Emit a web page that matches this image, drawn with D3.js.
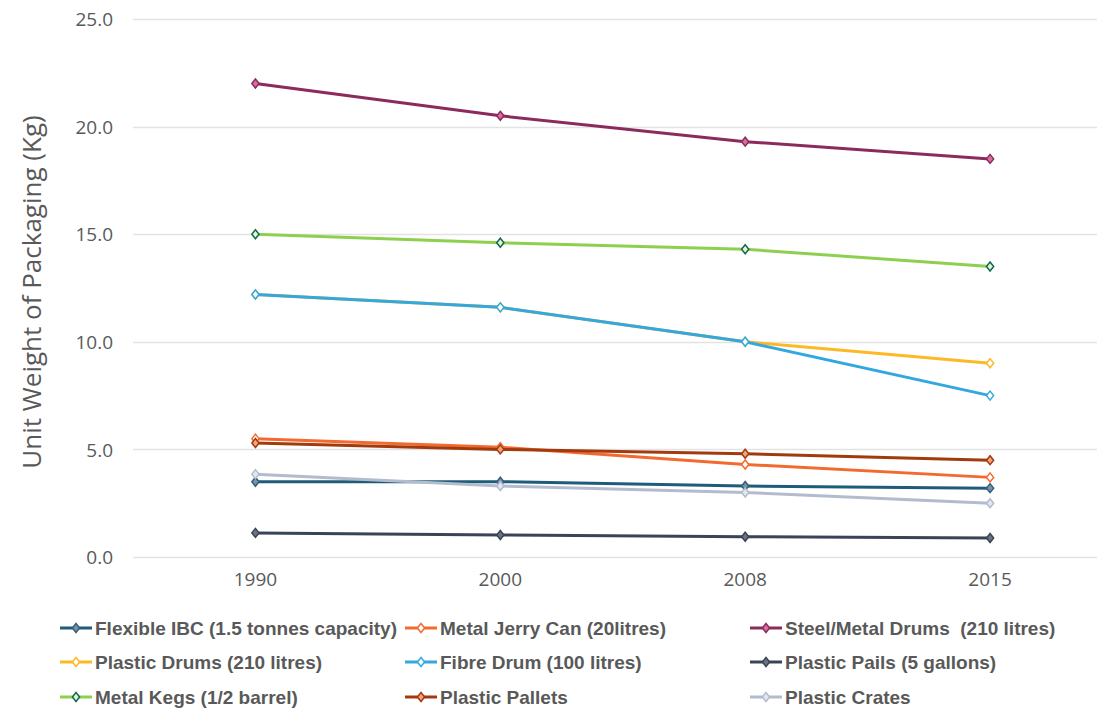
<!DOCTYPE html>
<html>
<head>
<meta charset="utf-8">
<script src="https://cdn.jsdelivr.net/npm/d3@7"></script>
<style>
  html, body { margin: 0; padding: 0; background: #fff; }
  svg { display: block; }
</style>
</head>
<body>
<svg id="chart" width="1101" height="709"></svg>
<script>
// Years on the category axis
const years = ["1990", "2000", "2008", "2015"];

// Unit weight of packaging (kg) per type
const flexibleIBC   = [3.5, 3.5, 3.3, 3.2];
const metalJerryCan = [5.5, 5.1, 4.3, 3.7];
const steelDrums    = [22.0, 20.5, 19.3, 18.5];
const plasticDrums  = [12.2, 11.6, 10.0, 9.0];
const fibreDrum     = [12.2, 11.6, 10.0, 7.5];
const plasticPails  = [1.12, 1.02, 0.94, 0.88];
const metalKegs     = [15.0, 14.6, 14.3, 13.5];
const plasticPallets= [5.3, 5.0, 4.8, 4.5];
const plasticCrates = [3.85, 3.3, 3.0, 2.5];

// Value axis ticks
const yTicks = [0, 5, 10, 15, 20, 25];

const seriesNames = [
  "Flexible IBC (1.5 tonnes capacity)", "Metal Jerry Can (20litres)", "Steel/Metal Drums  (210 litres)",
  "Plastic Drums (210 litres)", "Fibre Drum (100 litres)", "Plastic Pails (5 gallons)",
  "Metal Kegs (1/2 barrel)", "Plastic Pallets", "Plastic Crates"
];
const seriesValues = [flexibleIBC, metalJerryCan, steelDrums, plasticDrums, fibreDrum,
  plasticPails, metalKegs, plasticPallets, plasticCrates];
const lineColors   = ["#1F5C7A", "#F26A2E", "#8C2A5C", "#FDB925", "#33A8DE", "#3A4457", "#8DD04F", "#A13B0E", "#B3BCCD"];
const markerStroke = ["#2F607F", "#F26A2E", "#8C2A5C", "#FDB925", "#33A8DE", "#3A4457", "#116A4A", "#A13B0E", "#B3BCCD"];
const markerFill   = ["#7D90A8", "#FFFFFF", "#D86FA2", "#FFFFFF", "#FFFFFF", "#6C7482", "#E7F5D8", "#F6A27E", "#E3E7EE"];

const series = seriesNames.map((name, i) => ({
  name, values: seriesValues[i], line: lineColors[i], stroke: markerStroke[i], fill: markerFill[i]
}));

const svg = d3.select("#chart");
const plotLeft = 133, plotRight = 1112.5, gridRight = 1097;
const plotTop = 19, plotBottom = 557;

const x = d3.scaleBand().domain(years).range([plotLeft, plotRight]);
const y = d3.scaleLinear().domain([0, 25]).range([plotBottom, plotTop]);
const cx = yr => x(yr) + x.bandwidth() / 2;

// Horizontal gridlines
svg.append("g").selectAll("line").data(yTicks).join("line")
  .attr("x1", plotLeft).attr("x2", gridRight)
  .attr("y1", d => Math.round(y(d)) + 0.5).attr("y2", d => Math.round(y(d)) + 0.5)
  .attr("stroke", "#E3E3E3").attr("stroke-width", 1.3);

// Value axis labels
const yAxis = d3.axisLeft(y).tickValues(yTicks).tickFormat(d3.format(".1f")).tickSize(0).tickPadding(0);
const yg = svg.append("g").attr("transform", `translate(113,0)`).call(yAxis);
yg.select(".domain").remove();
yg.selectAll("text").attr("font-family", "'Open Sans', sans-serif").attr("font-size", 19)
  .attr("fill", "#595959").attr("dy", "0.35em");

// Category axis labels
const xAxis = d3.axisBottom(x).tickSize(0).tickPadding(0);
const xg = svg.append("g").attr("transform", `translate(0,572)`).call(xAxis);
xg.select(".domain").remove();
xg.selectAll("text").attr("font-family", "'Open Sans', sans-serif").attr("font-size", 19)
  .attr("fill", "#595959");

// Axis title
svg.append("text")
  .attr("transform", "translate(41,292) rotate(-90)")
  .attr("text-anchor", "middle")
  .attr("font-family", "'Open Sans', sans-serif").attr("font-size", 26)
  .attr("fill", "#595959")
  .text("Unit Weight of Packaging (Kg)");

const line = d3.line().x((d, i) => cx(years[i])).y(d => y(d));
const diamond = (px, py, r) => `M${px},${py - r}L${px + r * 0.8},${py}L${px},${py + r}L${px - r * 0.8},${py}Z`;

// Lines and markers
const sg = svg.append("g").selectAll("g").data(series).join("g");
sg.append("path")
  .attr("d", d => line(d.values))
  .attr("fill", "none").attr("stroke", d => d.line).attr("stroke-width", 3)
  .attr("stroke-linejoin", "round").attr("stroke-linecap", "round");
sg.selectAll("path.mk").data(d => d.values.map((v, i) => ({ v, i, s: d }))).join("path")
  .attr("class", "mk")
  .attr("d", d => diamond(cx(years[d.i]), y(d.v), 4.5))
  .attr("fill", d => d.s.fill).attr("stroke", d => d.s.stroke).attr("stroke-width", 1.5);

// Legend
const legendCols = [60, 405, 750];
const legendRows = [628, 662, 697];
const lg = svg.append("g").selectAll("g").data(series).join("g")
  .attr("transform", (d, i) => `translate(${legendCols[i % 3]},${legendRows[Math.floor(i / 3)]})`);
lg.append("line").attr("x1", 0).attr("x2", 32).attr("y1", 0).attr("y2", 0)
  .attr("stroke", d => d.line).attr("stroke-width", 3);
lg.append("path").attr("d", diamond(16, 0, 4.5))
  .attr("fill", d => d.fill).attr("stroke", d => d.stroke).attr("stroke-width", 1.5);
lg.append("text").attr("x", 35).attr("dy", "0.35em")
  .style("white-space", "pre")
  .attr("font-family", "'Liberation Sans Narrow', 'Arial Narrow', sans-serif")
  .attr("font-size", 19).attr("font-weight", "bold").attr("fill", "#595959")
  .text(d => d.name);
</script>
</body>
</html>
